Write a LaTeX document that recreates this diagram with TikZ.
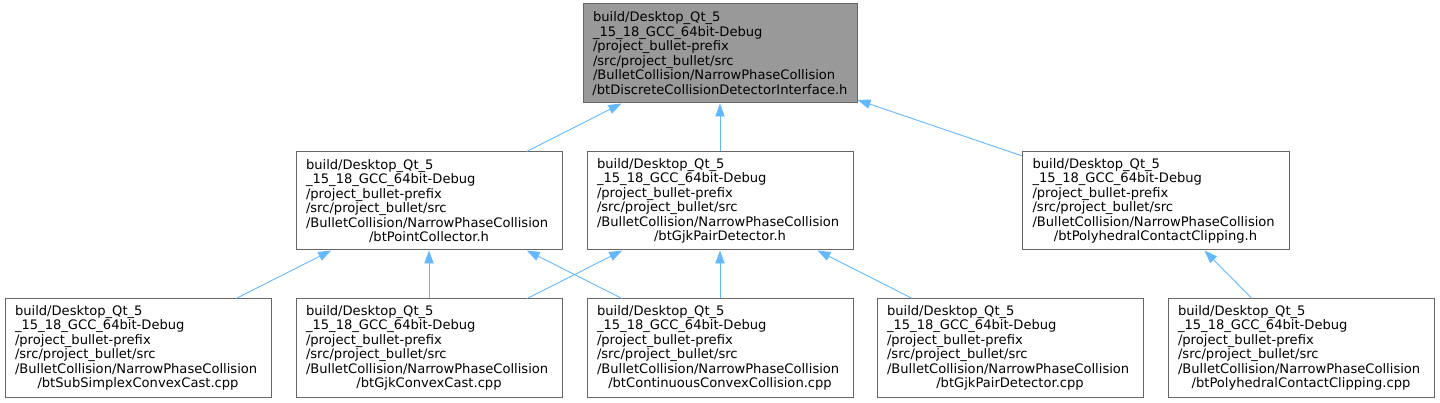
\documentclass[tikz,border=0pt]{standalone}
\usepackage{fontspec}
\setmainfont{DejaVu Sans}
\usetikzlibrary{arrows.meta}
\definecolor{edgeblue}{HTML}{63B8FF}
\definecolor{boxgray}{HTML}{666666}
\definecolor{topfill}{HTML}{999999}
\newcommand{\lastline}[1]{\makebox[\hsize][c]{#1}}
\begin{document}
\begin{tikzpicture}[x=1pt,y=-1pt,
  filebox/.style={draw=boxgray, line width=1pt, fill=white, minimum width=266pt, minimum height=98pt,
    inner sep=0pt, text width=246pt, align=left, font=\fontsize{13.1}{14.5}\selectfont},
  topbox/.style={filebox, fill=topfill, minimum width=274pt, minimum height=99pt, text width=254pt},
  edge/.style={draw=edgeblue, line width=0.9pt, -{Triangle[length=13pt,width=9.3pt]}}]
\useasboundingbox (0,0) rectangle (1440,403);
\node[topbox] (top) at (720,53.5) {build/Desktop\_Qt\_5\\\_15\_18\_GCC\_64bit-Debug\\/project\_bullet-prefix\\/src/project\_bullet/src\\/BulletCollision/NarrowPhaseCollision\\\lastline{/btDiscreteCollisionDetectorInterface.h}};
\node[filebox] (midL) at (429,201) {build/Desktop\_Qt\_5\\\_15\_18\_GCC\_64bit-Debug\\/project\_bullet-prefix\\/src/project\_bullet/src\\/BulletCollision/NarrowPhaseCollision\\\lastline{/btPointCollector.h}};
\node[filebox] (midC) at (720,201) {build/Desktop\_Qt\_5\\\_15\_18\_GCC\_64bit-Debug\\/project\_bullet-prefix\\/src/project\_bullet/src\\/BulletCollision/NarrowPhaseCollision\\\lastline{/btGjkPairDetector.h}};
\node[filebox, minimum width=267pt] (midR) at (1155.5,201) {build/Desktop\_Qt\_5\\\_15\_18\_GCC\_64bit-Debug\\/project\_bullet-prefix\\/src/project\_bullet/src\\/BulletCollision/NarrowPhaseCollision\\\lastline{/btPolyhedralContactClipping.h}};
\node[filebox] (b1) at (138,348) {build/Desktop\_Qt\_5\\\_15\_18\_GCC\_64bit-Debug\\/project\_bullet-prefix\\/src/project\_bullet/src\\/BulletCollision/NarrowPhaseCollision\\\lastline{/btSubSimplexConvexCast.cpp}};
\node[filebox] (b2) at (429,348) {build/Desktop\_Qt\_5\\\_15\_18\_GCC\_64bit-Debug\\/project\_bullet-prefix\\/src/project\_bullet/src\\/BulletCollision/NarrowPhaseCollision\\\lastline{/btGjkConvexCast.cpp}};
\node[filebox] (b3) at (720,348) {build/Desktop\_Qt\_5\\\_15\_18\_GCC\_64bit-Debug\\/project\_bullet-prefix\\/src/project\_bullet/src\\/BulletCollision/NarrowPhaseCollision\\\lastline{/btContinuousConvexCollision.cpp}};
\node[filebox] (b4) at (1010,348) {build/Desktop\_Qt\_5\\\_15\_18\_GCC\_64bit-Debug\\/project\_bullet-prefix\\/src/project\_bullet/src\\/BulletCollision/NarrowPhaseCollision\\\lastline{/btGjkPairDetector.cpp}};
\node[filebox] (b5) at (1301,348) {build/Desktop\_Qt\_5\\\_15\_18\_GCC\_64bit-Debug\\/project\_bullet-prefix\\/src/project\_bullet/src\\/BulletCollision/NarrowPhaseCollision\\\lastline{/btPolyhedralContactClipping.cpp}};
\draw[edge] (midL) -- (top);
\draw[edge] (midC) -- (top);
\draw[edge] (midR) -- (top);
\draw[edge] (b1) -- (midL);
\draw[edge] (b2) -- (midL);
\draw[edge] (b3) -- (midL);
\draw[edge] (b2) -- (midC);
\draw[edge] (b3) -- (midC);
\draw[edge] (b4) -- (midC);
\draw[edge] (b5) -- (midR);
\end{tikzpicture}
\end{document}
